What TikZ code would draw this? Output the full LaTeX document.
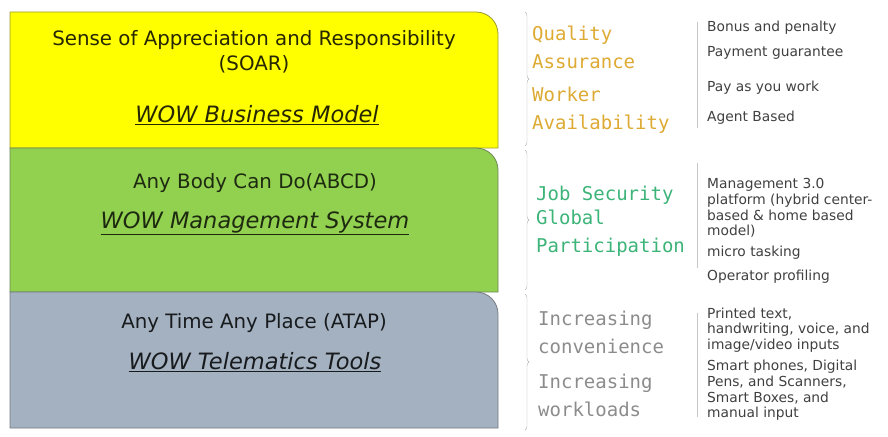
\documentclass[tikz,border=0pt]{standalone}
\usepackage{fontspec}
\setmainfont{DejaVu Sans}
\newfontfamily\gothic{DejaVu Sans Mono}
\usetikzlibrary{decorations.pathreplacing}
\definecolor{soaryellow}{HTML}{FFFF00}
\definecolor{abcdgreen}{HTML}{92D050}
\definecolor{atapgray}{HTML}{A4B1C1}
\definecolor{goldtxt}{HTML}{DDAA33}
\definecolor{greentxt}{HTML}{3CB478}
\definecolor{graytxt}{HTML}{8C8C8C}
\definecolor{itemtxt}{HTML}{404040}

\begin{document}
\begin{tikzpicture}[x=1pt, y=-1pt,
  layer/.style={draw=#1!50!black!80, fill=#1, line width=0.8pt},
  head/.style={align=center, inner sep=0pt, font=\fontsize{19.8}{25}\selectfont},
  model/.style={inner sep=0pt, font=\fontsize{22.5}{26}\selectfont\itshape},
  factor/.style={anchor=west, align=left, inner sep=0pt, font=\fontsize{19}{28}\selectfont\gothic},
  item/.style={anchor=west, align=left, inner sep=0pt, text=itemtxt, font=\fontsize{13.8}{15.6}\selectfont},
  brk/.style={draw=gray!60, thin, decorate, decoration={brace, amplitude=4pt}},
  sep/.style={draw=gray!45, thin}]
\useasboundingbox (0,0) rectangle (888,436);
% the three layers
\foreach \t/\b/\c in {12/148/soaryellow, 148/292/abcdgreen, 292/428/atapgray}{
  \draw[layer=\c] (10,\b) -- (10,\t) -- (476,\t) arc[start angle=270, end angle=360, radius=22] -- (498,\b) -- cycle;
}
\node[head, text=black!85!soaryellow] (soar) at (254,52) {Sense of Appreciation and Responsibility\\(SOAR)};
\node[model, text=black!85!soaryellow] (bizmodel) at (257,115) {\underline{WOW Business Model}};
\node[head, text=black!80!abcdgreen] (abcd) at (255,183) {Any Body Can Do(ABCD)};
\node[model, text=black!80!abcdgreen] (mgmtsys) at (255,223) {\underline{WOW Management System}};
\node[head, text=black!85!atapgray] (atap) at (254,323) {Any Time Any Place (ATAP)};
\node[model, text=black!85!atapgray] (teltools) at (255,362) {\underline{WOW Telematics Tools}};
% braces
\foreach \a/\b in {12/146, 150/290, 294/430}{
  \draw[brk] (525,\a) -- (525,\b);
}
% factors
\node[factor, text=goldtxt] (qa) at (532,47.5) {Quality\\Assurance};
\node[factor, text=goldtxt] (wa) at (532,110) {Worker\\Availability};
\node[factor, text=greentxt] (js) at (536,195) {Job Security};
\node[factor, text=greentxt] (gp) at (536,233.5) {Global\\Participation};
\node[factor, text=graytxt] (ic) at (538,332.5) {Increasing\\convenience};
\node[factor, text=graytxt] (iw) at (538,395) {Increasing\\workloads};
% separators
\foreach \a/\b in {22/128, 163/268, 313/417}{
  \draw[sep] (697,\a) -- (697,\b);
}
% items
\node[item] (bonus) at (707,28) {Bonus and penalty};
\node[item] (payment) at (707,53) {Payment guarantee};
\node[item] (payas) at (707,88) {Pay as you work};
\node[item] (agent) at (707,118) {Agent Based};
\node[item] (mgmt) at (707,208) {Management 3.0\\platform (hybrid center-\\based \& home based\\model)};
\node[item] (micro) at (707,253) {micro tasking};
\node[item] (oper) at (707,277) {Operator profiling};
\node[item] (printed) at (707,330) {Printed text,\\handwriting, voice, and\\image/video inputs};
\node[item] (smart) at (707,390.5) {Smart phones, Digital\\Pens, and Scanners,\\Smart Boxes, and\\manual input};
\end{tikzpicture}
\end{document}
